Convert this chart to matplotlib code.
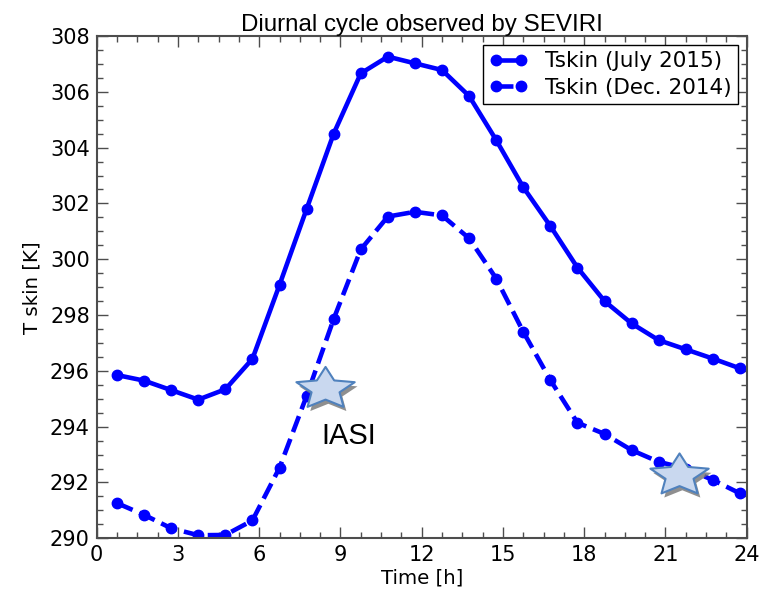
import numpy as np
import matplotlib.pyplot as plt
import matplotlib.patheffects as pe
from matplotlib.path import Path
from matplotlib.ticker import MultipleLocator

# data
hours = [0.75, 1.75, 2.75, 3.75, 4.75, 5.75, 6.75, 7.75, 8.75, 9.75, 10.75, 11.75,
         12.75, 13.75, 14.75, 15.75, 16.75, 17.75, 18.75, 19.75, 20.75, 21.75, 22.75, 23.75]
tskin_jul = [295.85, 295.65, 295.31, 294.97, 295.34, 296.43, 299.08, 301.8, 304.5, 306.66, 307.26, 307.02,
             306.78, 305.85, 304.27, 302.58, 301.19, 299.7, 298.5, 297.7, 297.1, 296.77, 296.44, 296.09]
tskin_dec = [291.26, 290.84, 290.36, 290.11, 290.12, 290.64, 292.53, 295.1, 297.86, 300.35, 301.53, 301.7,
             301.57, 300.75, 299.31, 297.4, 295.67, 294.14, 293.74, 293.16, 292.74, 292.5, 292.09, 291.61]

iasi_time = [8.45, 21.52]
iasi_temp = [295.35, 292.25]

# squashed star marker
ang = np.pi / 2 + np.arange(10) * np.pi / 5
rad = np.where(np.arange(10) % 2 == 0, 1.0, 0.48)
verts = np.column_stack([rad * np.cos(ang), 0.72 * rad * np.sin(ang)])
verts = np.vstack([verts, verts[:1]])
star = Path(verts, [Path.MOVETO] + [Path.LINETO] * 9 + [Path.CLOSEPOLY])

fig = plt.figure(figsize=(7.65, 5.96), dpi=100)
ax = fig.add_axes([0.1264, 0.0968, 0.8497, 0.8428])

ax.plot(hours, tskin_jul, "b-", lw=3.3, marker="o", ms=7.5, label="Tskin (July 2015)")
ax.plot(hours, tskin_dec, "b--", lw=3.3, marker="o", ms=7.5, label="Tskin (Dec. 2014)")

ax.plot(iasi_time, iasi_temp, ls="none", marker=star, ms=42, mfc="#c9d8ef", mec="#4f81bd",
        mew=1.5, zorder=5,
        path_effects=[pe.SimplePatchShadow(offset=(2, -3), shadow_rgbFace="0.45", alpha=0.8),
                      pe.Normal()])
ax.text(9.3, 293.65, "IASI", fontsize=21, family="Liberation Sans", ha="center", va="center")

ax.set_xlim(0, 24)
ax.set_ylim(290, 308)
ax.xaxis.set_major_locator(MultipleLocator(3))
ax.xaxis.set_minor_locator(MultipleLocator(0.75))
ax.yaxis.set_major_locator(MultipleLocator(2))
ax.yaxis.set_minor_locator(MultipleLocator(0.5))
ax.tick_params(which="both", direction="in", top=True, right=True, width=1, color="0.3")
ax.tick_params(which="major", length=8, labelsize=15, pad=5)
ax.tick_params(which="minor", length=4)
for s in ax.spines.values():
    s.set_color("0.3")
    s.set_linewidth(1.5)

ax.set_xlabel("Time [h]", fontsize=14.2, labelpad=2)
ax.set_ylabel("T skin [K]", fontsize=14.2, labelpad=6)
ax.set_title("Diurnal cycle observed by SEVIRI", fontsize=17.4, family="Liberation Sans", pad=2)

leg = ax.legend(loc="upper right", fontsize=15.5, numpoints=2, fancybox=False, framealpha=1,
                handlelength=1.8, borderaxespad=0.4, borderpad=0.3, labelspacing=0.3)
leg.get_frame().set_edgecolor("black")

fig.savefig("out.png", dpi=100)
